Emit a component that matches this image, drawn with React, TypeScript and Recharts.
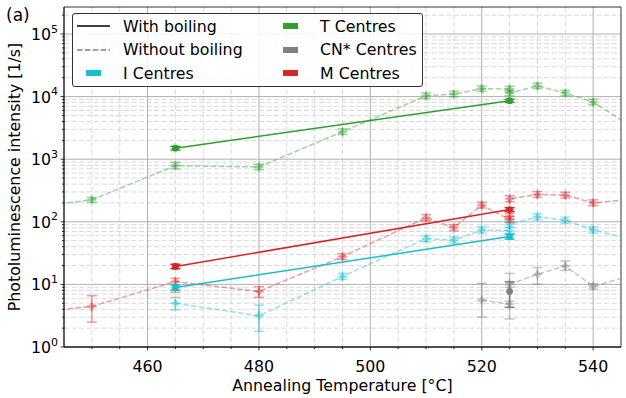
import React from 'react';
import {
  ComposedChart,
  Line,
  XAxis,
  YAxis,
  ErrorBar,
  CartesianGrid,
  ReferenceArea,
} from 'recharts';

const FONT = 'DejaVu Sans, Verdana, sans-serif';
const FS = 15.8;

// axis ranges and ticks
const X_MIN = 445;
const X_MAX = 545;
const Y_MIN = 1;
const Y_MAX = 270000;

const xMajor = [460, 480, 500, 520, 540];
const xMinor = [450, 455, 465, 470, 475, 485, 490, 495, 505, 510, 515, 525, 530, 535];
const yMajor = [1, 10, 100, 1000, 10000, 100000];
const yMinor = [
  2, 3, 4, 5, 6, 7, 8, 9,
  20, 30, 40, 50, 60, 70, 80, 90,
  200, 300, 400, 500, 600, 700, 800, 900,
  2000, 3000, 4000, 5000, 6000, 7000, 8000, 9000,
  20000, 30000, 40000, 50000, 60000, 70000, 80000, 90000,
  200000,
];

// T centres, without boiling
const tempsTNoBoil = [440, 450, 465, 480, 495, 510, 515, 520, 525, 525, 530, 535, 540, 550];
const tNoBoil = [170, 225, 790, 750, 2750, 10300, 11000, 13400, 13200, 11400, 14800, 11400, 8200, 2200];
const tNoBoilLo = [155, 205, 700, 680, 2480, 9300, 9900, 12100, 11900, 10300, 13400, 10300, 7400, 2000];
const tNoBoilHi = [185, 245, 890, 830, 3050, 11400, 12200, 14800, 14600, 12600, 16400, 12600, 9100, 2400];

// M centres, without boiling
const tempsMNoBoil = [440, 450, 465, 480, 495, 510, 515, 520, 525, 525, 525, 530, 535, 540, 550];
const mNoBoil = [3.6, 4.45, 11.1, 7.7, 27.8, 116, 80.5, 185, 109, 123, 233, 273, 266, 201, 245];
const mNoBoilLo = [3.2, 2.5, 7.5, 6.2, 25, 104, 72, 166, 98, 110, 209, 245, 240, 181, 220];
const mNoBoilHi = [4.1, 6.6, 12.5, 9.2, 31, 130, 90, 206, 121, 137, 260, 305, 296, 224, 272];

// I centres, without boiling
const tempsINoBoil = [465, 480, 495, 510, 515, 520, 525, 525, 530, 535, 540, 550];
const iNoBoil = [5.0, 3.15, 13.4, 53.8, 51, 74, 72, 91, 120, 106, 74, 45];
const iNoBoilLo = [3.9, 1.78, 12, 48, 46, 66, 65, 82, 108, 95, 66, 40];
const iNoBoilHi = [6.2, 4.66, 15, 60, 57, 83, 80, 101, 134, 118, 83, 50];

// CN* centres, without boiling
const tempsCNNoBoil = [520, 525, 525, 530, 535, 540, 550];
const cnNoBoil = [5.6, 4.85, 10.1, 14.5, 19.7, 9.3, 16.6];
const cnNoBoilLo = [3.0, 2.8, 9.0, 10.1, 16.8, 8.4, 15];
const cnNoBoilHi = [10.4, 5.4, 15, 18.6, 23.7, 10.3, 18.4];

// with boiling
const tempsBoil = [465, 525];
const tBoil = [1500, 8600];
const tBoilLo = [1400, 8100];
const tBoilHi = [1600, 9100];
const mBoil = [19.3, 157];
const mBoilLo = [17.8, 146];
const mBoilHi = [21, 168];
const iBoil = [8.9, 58];
const iBoilLo = [8.1, 53];
const iBoilHi = [9.8, 63];
const tempsCNBoil = [525];
const cnBoil = [7.7];
const cnBoilLo = [4.3];
const cnBoilHi = [11.0];

const GREEN = '44,160,44';
const CYAN = '23,190,207';
const RED = '214,39,40';
const GRAY = '127,127,127';
const FADE = 0.45;

const inRange = (x: number) => x >= X_MIN && x <= X_MAX;

const makeRows = (xs: number[], ys: number[], lo: number[], hi: number[]) =>
  xs.map((x, i) => ({
    x,
    y: ys[i],
    err: inRange(x) ? [ys[i] - lo[i], hi[i] - ys[i]] : undefined,
  }));

const dashedSeries = [
  { id: 'tNB', rgb: GREEN, rows: makeRows(tempsTNoBoil, tNoBoil, tNoBoilLo, tNoBoilHi) },
  { id: 'cnNB', rgb: GRAY, rows: makeRows(tempsCNNoBoil, cnNoBoil, cnNoBoilLo, cnNoBoilHi) },
  { id: 'iNB', rgb: CYAN, rows: makeRows(tempsINoBoil, iNoBoil, iNoBoilLo, iNoBoilHi) },
  { id: 'mNB', rgb: RED, rows: makeRows(tempsMNoBoil, mNoBoil, mNoBoilLo, mNoBoilHi) },
];

const solidSeries = [
  { id: 'tB', rgb: GREEN, rows: makeRows(tempsBoil, tBoil, tBoilLo, tBoilHi) },
  { id: 'cnB', rgb: GRAY, rows: makeRows(tempsCNBoil, cnBoil, cnBoilLo, cnBoilHi) },
  { id: 'iB', rgb: CYAN, rows: makeRows(tempsBoil, iBoil, iBoilLo, iBoilHi) },
  { id: 'mB', rgb: RED, rows: makeRows(tempsBoil, mBoil, mBoilLo, mBoilHi) },
];

const legendItems = [
  { label: 'With boiling', kind: 'solid', color: '#000' },
  { label: 'Without boiling', kind: 'dashed', color: 'rgba(0,0,0,0.5)' },
  { label: 'I Centres', kind: 'patch', color: `rgb(${CYAN})` },
  { label: 'T Centres', kind: 'patch', color: `rgb(${GREEN})` },
  { label: 'CN* Centres', kind: 'patch', color: `rgb(${GRAY})` },
  { label: 'M Centres', kind: 'patch', color: `rgb(${RED})` },
];

const starDot = (rgb: string) => (p: any) => {
  const { cx, cy, index, payload } = p;
  if (cx == null || cy == null || !inRange(payload.x)) return <g key={`s-${index}`} />;
  const r = 5.5;
  const q = 1.8;
  const pts = [
    [0, -r], [q, -q], [r, 0], [q, q], [0, r], [-q, q], [-r, 0], [-q, -q],
  ]
    .map(([dx, dy]) => `${cx + dx},${cy + dy}`)
    .join(' ');
  return <polygon key={`s-${index}`} points={pts} fill={`rgba(${rgb},${FADE})`} />;
};

const circleDot = (rgb: string) => (p: any) => {
  const { cx, cy, index } = p;
  if (cx == null || cy == null) return <g key={`c-${index}`} />;
  return <circle key={`c-${index}`} cx={cx} cy={cy} r={3.4} fill={`rgb(${rgb})`} />;
};

const XTick = (props: any) => {
  const { x, y, payload } = props;
  const major = xMajor.includes(payload.value);
  return (
    <g>
      <line x1={x} x2={x} y1={y} y2={y + (major ? 3.5 : 2)} stroke="#000" strokeWidth={0.8} />
      {major && (
        <text x={x} y={y + 25} textAnchor="middle" fontSize={FS} fill="#000" fontFamily={FONT}>
          {payload.value}
        </text>
      )}
    </g>
  );
};

const YTick = (props: any) => {
  const { x, y, payload } = props;
  const v = payload.value as number;
  const major = yMajor.includes(v);
  return (
    <g>
      <line x1={x} x2={x - (major ? 3.5 : 2)} y1={y} y2={y} stroke="#000" strokeWidth={0.8} />
      {major && (
        <text x={x - 6} y={y + 6} textAnchor="end" fontSize={FS} fill="#000" fontFamily={FONT}>
          <tspan>10</tspan>
          <tspan dy={-7.5} fontSize={11}>
            {Math.round(Math.log10(v))}
          </tspan>
        </text>
      )}
    </g>
  );
};

const XLabel = (props: any) => {
  const { viewBox } = props;
  return (
    <text
      x={viewBox.x + viewBox.width / 2}
      y={viewBox.y + 44}
      textAnchor="middle"
      fontSize={FS}
      fill="#000"
      fontFamily={FONT}
    >
      Annealing Temperature [°C]
    </text>
  );
};

const YLabel = (props: any) => {
  const { viewBox } = props;
  const cx = viewBox.x + 14;
  const cy = viewBox.y + viewBox.height / 2;
  return (
    <text
      x={cx}
      y={cy}
      transform={`rotate(-90 ${cx} ${cy})`}
      textAnchor="middle"
      dominantBaseline="central"
      fontSize={FS}
      fill="#000"
      fontFamily={FONT}
    >
      Photoluminescence intensity [1/s]
    </text>
  );
};

const LegendHandle = ({ kind, color }: { kind: string; color: string }) => (
  <svg width={33} height={12} style={{ display: 'block' }}>
    {kind === 'solid' && <line x1={0} x2={33} y1={6} y2={6} stroke={color} strokeWidth={1.5} />}
    {kind === 'dashed' && (
      <line x1={0} x2={33} y1={6} y2={6} stroke={color} strokeWidth={1.5} strokeDasharray="5.5 2.4" />
    )}
    {kind === 'patch' && <rect x={9} y={3} width={15} height={6} fill={color} />}
  </svg>
);

const ChartLegend = () => (
  <div
    style={{
      position: 'absolute',
      left: 72,
      top: 13,
      width: 351,
      height: 74,
      border: '1px solid #333',
      borderRadius: 3,
      background: 'rgba(255,255,255,0.85)',
      boxSizing: 'border-box',
      fontFamily: FONT,
      fontSize: FS,
      color: '#000',
    }}
  >
    {legendItems.map((item, i) => {
      const col = Math.floor(i / 3);
      const row = i % 3;
      return (
        <div
          key={item.label}
          style={{
            position: 'absolute',
            left: 4 + col * 197,
            top: 1 + row * 23.5,
            height: 22,
            display: 'flex',
            alignItems: 'center',
            whiteSpace: 'nowrap',
          }}
        >
          <LegendHandle kind={item.kind} color={item.color} />
          <span style={{ marginLeft: 13 }}>{item.label}</span>
        </div>
      );
    })}
  </div>
);

export default function App() {
  return (
    <div
      style={{
        position: 'absolute',
        left: 0,
        top: 0,
        width: 626,
        height: 398,
        background: '#fff',
        fontFamily: FONT,
      }}
    >
      <ComposedChart width={626} height={398} margin={{ top: 7, right: 5, bottom: 0, left: 0 }}>
        <CartesianGrid
          horizontalValues={yMinor}
          verticalValues={xMinor}
          stroke="#d9d9d9"
          strokeDasharray="5 2.5"
          strokeWidth={1}
        />
        <CartesianGrid horizontalValues={yMajor} verticalValues={xMajor} stroke="#b0b0b0" strokeWidth={1} />
        <XAxis
          dataKey="x"
          type="number"
          domain={[X_MIN, X_MAX]}
          allowDataOverflow
          ticks={[...xMajor, ...xMinor].sort((a, b) => a - b)}
          interval={0}
          tick={<XTick />}
          tickLine={false}
          tickSize={0}
          tickMargin={0}
          height={51}
          axisLine={{ stroke: '#000', strokeWidth: 0.8 }}
          label={<XLabel />}
        />
        <YAxis
          type="number"
          scale="log"
          domain={[Y_MIN, Y_MAX]}
          allowDataOverflow
          ticks={[...yMajor, ...yMinor].sort((a, b) => a - b)}
          interval={0}
          tick={<YTick />}
          tickLine={false}
          tickSize={0}
          tickMargin={0}
          width={64}
          axisLine={{ stroke: '#000', strokeWidth: 0.8 }}
          label={<YLabel />}
        />
        {dashedSeries.map((s) => (
          <Line
            key={s.id}
            data={s.rows}
            dataKey="y"
            stroke={`rgba(${s.rgb},${FADE})`}
            strokeWidth={1.5}
            strokeDasharray="5.5 2.4"
            dot={starDot(s.rgb)}
            activeDot={false}
            isAnimationActive={false}
          >
            <ErrorBar dataKey="err" direction="y" width={5} stroke={`rgba(${s.rgb},${FADE})`} strokeWidth={1.5} />
          </Line>
        ))}
        {solidSeries.map((s) => (
          <Line
            key={s.id}
            data={s.rows}
            dataKey="y"
            stroke={`rgb(${s.rgb})`}
            strokeWidth={1.5}
            dot={circleDot(s.rgb)}
            activeDot={false}
            isAnimationActive={false}
          >
            <ErrorBar dataKey="err" direction="y" width={5} stroke={`rgb(${s.rgb})`} strokeWidth={1.5} />
          </Line>
        ))}
        <ReferenceArea x1={X_MIN} x2={X_MAX} y1={Y_MIN} y2={Y_MAX} fill="none" stroke="#000" strokeWidth={0.8} />
      </ComposedChart>
      <ChartLegend />
      <div
        style={{
          position: 'absolute',
          left: 6,
          top: 4,
          fontSize: 17,
          fontFamily: FONT,
          color: '#000',
          lineHeight: '22px',
        }}
      >
        (a)
      </div>
    </div>
  );
}
